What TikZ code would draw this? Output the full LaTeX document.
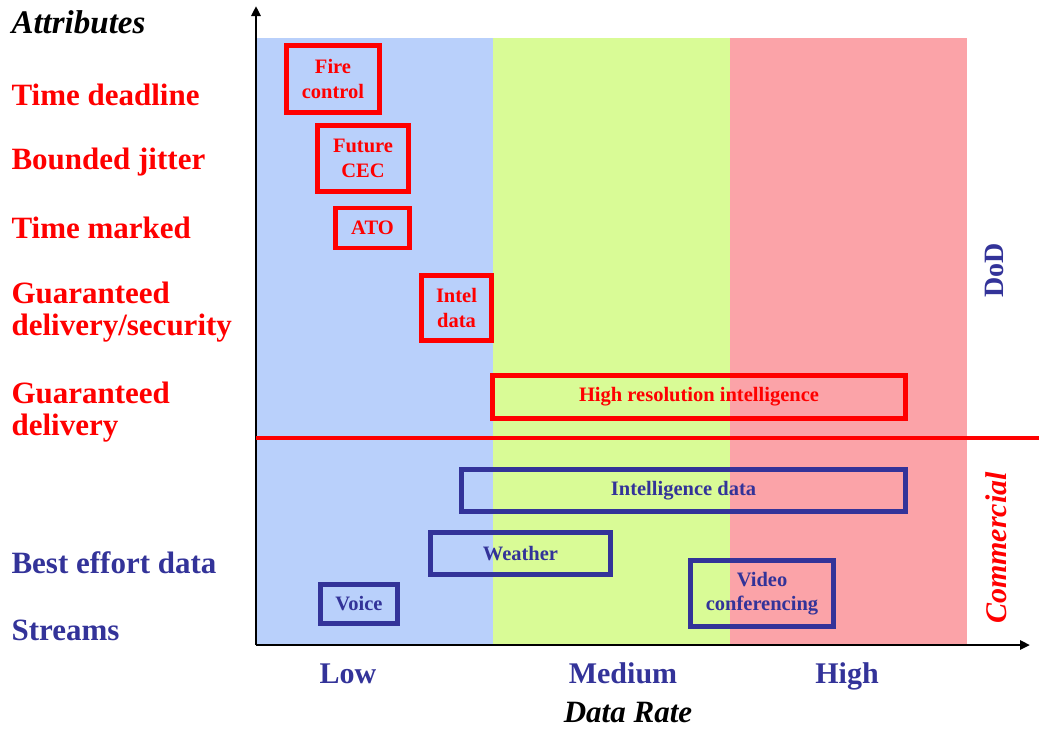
\documentclass[tikz,border=0pt]{standalone}
\usepackage{fontspec}
\setmainfont{Liberation Serif}
\usepackage{xcolor}
\usetikzlibrary{arrows.meta,positioning}

\definecolor{lowband}{HTML}{B9D0FB}
\definecolor{medband}{HTML}{D9FB96}
\definecolor{highband}{HTML}{FBA3A8}
\definecolor{navy}{HTML}{333399}
\definecolor{alarm}{HTML}{FF0000}

\begin{document}
\begin{tikzpicture}[
  x=1pt, y=-1pt,
  attr/.style={anchor=west, align=left, font=\fontsize{31}{32}\selectfont\bfseries},
  dodattr/.style={attr, text=alarm},
  comattr/.style={attr, text=navy},
  rate/.style={anchor=base, font=\fontsize{30}{32}\selectfont\bfseries, text=navy},
  app/.style={draw, line width=4.5pt, inner sep=0pt, align=center,
    font=\fontsize{20.5}{24.5}\selectfont\bfseries},
  dodapp/.style={app, draw=alarm, text=alarm},
  comapp/.style={app, draw=navy, text=navy},
  axis/.style={-{Triangle[length=10pt,width=9pt]}, line width=2.5pt}]

  \useasboundingbox (0,0) rectangle (1039,729);

  % data rate bands
  \fill[lowband] (256,38) rectangle (493,645);
  \fill[medband] (493,38) rectangle (730,645);
  \fill[highband] (730,38) rectangle (967,645);

  % axes
  \coordinate (origin) at (256,645);
  \coordinate (ytip) at (256,6);
  \coordinate (xtip) at (1030,645);
  \draw[axis] (origin) -- (ytip);
  \draw[axis] (origin) -- (xtip);

  % DoD / commercial split
  \coordinate (splitl) at (256,438);
  \coordinate (splitr) at (1039,438);
  \draw[alarm, line width=4pt] (splitl) -- (splitr);

  % attributes
  \node[attr, font=\fontsize{33}{35}\selectfont\bfseries\itshape] (attrs) at (8,22) {Attributes};
  \node[dodattr] (deadline) at (8,95) {Time deadline};
  \node[dodattr] (jitter) at (8,162) {Bounded jitter};
  \node[dodattr] (marked) at (8,228) {Time marked};
  \node[dodattr] (gdsec) at (8,312) {Guaranteed\\delivery/security};
  \node[dodattr] (gdel) at (8,412) {Guaranteed\\delivery};
  \node[comattr] (besteffort) at (8,563) {Best effort data};
  \node[comattr] (streams) at (8,630) {Streams};

  % DoD applications
  \node[dodapp, minimum width=93pt, minimum height=67pt] (fire) at (333,79) {Fire\\control};
  \node[dodapp, minimum width=91pt, minimum height=66pt] (cec) at (363,158.5) {Future\\CEC};
  \node[dodapp, minimum width=74pt, minimum height=40pt] (ato) at (372.5,228) {ATO};
  \node[dodapp, minimum width=70pt, minimum height=65pt] (intel) at (456.5,308) {Intel\\data};
  \node[dodapp, minimum width=413pt, minimum height=43pt] (hires) at (699,397) {High resolution intelligence};

  % commercial applications
  \node[comapp, minimum width=444pt, minimum height=42pt] (inteldata) at (683.5,490.5) {Intelligence data};
  \node[comapp, minimum width=180pt, minimum height=42pt] (weather) at (520.5,553.5) {Weather};
  \node[comapp, minimum width=143pt, minimum height=66pt] (video) at (762,593.5) {Video\\conferencing};
  \node[comapp, minimum width=77pt, minimum height=39pt] (voice) at (359,604) {Voice};

  % rate labels
  \node[rate] (low) at (348,683) {Low};
  \node[rate] (medium) at (623,683) {Medium};
  \node[rate] (high) at (847,683) {High};
  \node[anchor=base, inner sep=0pt, font=\fontsize{31}{33}\selectfont\bfseries\itshape] (datarate) at (628,722) {Data Rate};

  % domains
  \node[rotate=90, text=navy, font=\fontsize{28}{30}\selectfont\bfseries] (dod) at (994,270) {DoD};
  \node[rotate=90, text=alarm, font=\fontsize{30}{32}\selectfont\bfseries\itshape] (commercial) at (996,548) {Commercial};
\end{tikzpicture}
\end{document}
